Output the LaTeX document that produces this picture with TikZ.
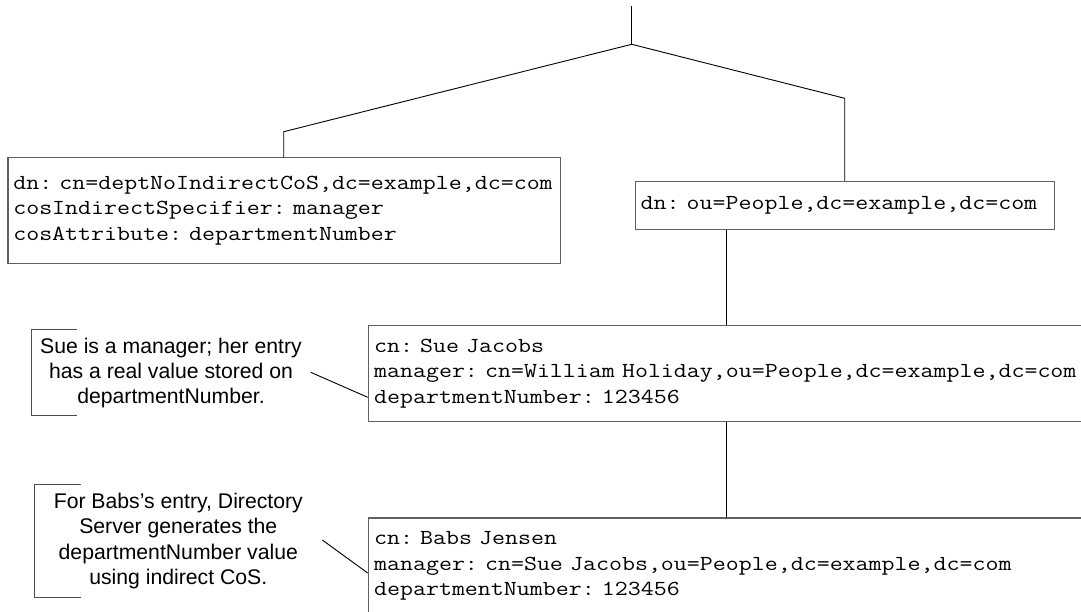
\documentclass[tikz,border=0pt]{standalone}
\usepackage{fontspec}
\setmainfont{Liberation Sans}
\newfontfamily\monof[FakeStretch=1.178]{Latin Modern Mono}
\newfontfamily\sansf{Liberation Sans}
\begin{document}
\begin{tikzpicture}[x=1pt,y=-1pt,
  entry/.style={draw=black!62, line width=1.2pt, anchor=north west, inner ysep=0pt,
    align=left, font=\monof\fontsize{21.4}{25.3}\selectfont\frenchspacing},
  note/.style={align=center, inner sep=0pt, font=\sansf\fontsize{21.2}{25.3}\selectfont\frenchspacing},
  link/.style={draw=black, line width=0.9pt},
  bracket/.style={draw=black!70, line width=1pt}]
\useasboundingbox (0,0) rectangle (1081,612);
\clip (0,0) rectangle (1081,612);

% entries
\node[entry, inner xsep=5.4pt, text width=541.6pt, minimum height=105.4pt] (cos) at (7.3,157.3)
  {\mbox{dn: cn=deptNoIndirectCoS,dc=example,dc=com}\\\mbox{cosIndirectSpecifier: manager}\\\mbox{cosAttribute: departmentNumber}};
\node[entry, inner xsep=5.5pt, text width=408.5pt, minimum height=48pt] (people) at (634.5,181)
  {\mbox{dn: ou=People,dc=example,dc=com}};
\node[entry, inner xsep=5.8pt, text width=748.4pt, minimum height=95.7pt] (sue) at (367.7,325)
  {\mbox{cn: Sue Jacobs}\\\mbox{manager: cn=William Holiday,ou=People,dc=example,dc=com}\\\mbox{departmentNumber: 123456}};
\node[entry, inner xsep=5.8pt, text width=748.4pt, minimum height=96pt] (babs) at (367.7,517.3)
  {\mbox{cn: Babs Jensen}\\\mbox{manager: cn=Sue Jacobs,ou=People,dc=example,dc=com}\\\mbox{departmentNumber: 123456}};

% tree connectors
\coordinate (top) at (631.7,6);
\coordinate (root) at (631.7,44.3);
\coordinate (lc) at (283.7,131.7);
\coordinate (rc) at (844.7,98.3);
\coordinate (vx) at (726,0);
\draw[link] (top) -- (root);
\draw[link] (root) -- (lc) -- (lc |- cos.north);
\draw[link] (root) -- (rc) -- (rc |- people.north);
\draw[link] (vx |- people.south) -- (vx |- sue.north);
\draw[link] (vx |- sue.south) -- (vx |- babs.north);

% notes
\node[note] (suenote) at (171,373)
  {Sue is a manager; her entry\\has a real value stored on\\departmentNumber.};
\node[note] (babsnote) at (178.3,541)
  {For Babs’s entry, Directory\\Server generates the\\departmentNumber value\\using indirect CoS.};

\draw[bracket] (77,329) -- (31.7,329) -- (31.7,415.7) -- (77,415.7);
\draw[bracket] (81,484.3) -- (34.5,484.3) -- (34.5,597) -- (81,597);

\coordinate (suefrom) at (310.7,372.3);
\coordinate (sueto) at (367.7,397.3);
\coordinate (babsfrom) at (322.3,540);
\coordinate (babsto) at (367.7,573);
\draw[link] (suefrom) -- (sueto);
\draw[link] (babsfrom) -- (babsto);
\end{tikzpicture}
\end{document}
